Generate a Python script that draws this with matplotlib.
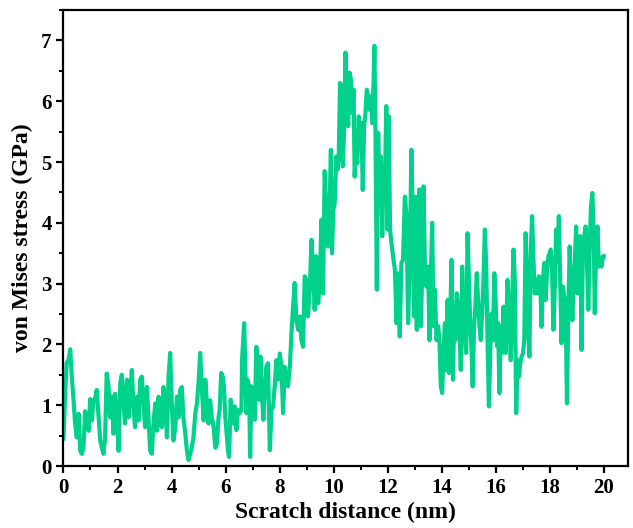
import numpy as np
import matplotlib
matplotlib.use("Agg")
import matplotlib.pyplot as plt
from matplotlib.ticker import MultipleLocator

# von Mises stress along the scratch path, read in pieces
dist_a = [0.00, 0.06, 0.12, 0.19, 0.25, 0.31, 0.37, 0.43, 0.49, 0.56,
          0.62, 0.68, 0.74, 0.80, 0.86, 0.93, 0.99, 1.05, 1.11, 1.17,
          1.23, 1.30, 1.36, 1.42, 1.48, 1.54, 1.60, 1.67, 1.73, 1.79,
          1.85, 1.91, 1.98, 2.04, 2.10, 2.16, 2.22, 2.28, 2.35, 2.41,
          2.47, 2.53, 2.59, 2.65, 2.72, 2.78, 2.84, 2.90, 2.96, 3.02,
          3.09, 3.15, 3.21, 3.27, 3.33, 3.40, 3.46, 3.52, 3.58, 3.64,
          3.70, 3.77, 3.83, 3.89, 3.95, 4.01, 4.07, 4.14, 4.20, 4.26,
          4.32, 4.38, 4.44, 4.51, 4.57, 4.63, 4.69, 4.75, 4.81, 4.88,
          4.94, 5.00, 5.06, 5.12, 5.19, 5.25, 5.31, 5.37, 5.43, 5.49,
          5.56, 5.62, 5.68, 5.74]
stress_a = [0.45, 1.20, 1.70, 1.75, 1.92, 1.45, 1.10, 0.70, 0.47, 0.86,
            0.25, 0.20, 0.30, 0.90, 0.80, 0.58, 1.10, 0.75, 1.08, 1.10,
            1.25, 0.80, 0.42, 0.30, 0.20, 0.47, 1.52, 1.30, 0.80, 1.14,
            0.53, 1.19, 0.75, 0.25, 1.36, 1.50, 1.03, 0.70, 1.42, 0.80,
            1.14, 1.58, 0.97, 0.64, 1.14, 0.75, 1.42, 1.47, 1.03, 0.64,
            1.30, 0.75, 0.25, 0.20, 0.70, 1.03, 0.58, 1.14, 0.80, 0.64,
            1.30, 1.03, 0.47, 1.47, 1.86, 1.03, 0.42, 0.64, 1.14, 0.80,
            1.25, 1.30, 0.80, 0.53, 0.25, 0.10, 0.20, 0.30, 0.47, 0.86,
            1.03, 1.36, 1.86, 1.30, 0.75, 1.42, 1.03, 0.70, 1.08, 0.80,
            0.64, 0.30, 0.36, 0.80]

dist_b = [5.78, 5.84, 5.90, 5.94, 5.99, 6.03, 6.09, 6.13, 6.19, 6.24,
          6.29, 6.34, 6.40, 6.46]
stress_b = [0.92, 1.53, 1.47, 1.31, 0.81, 0.59, 0.26, 0.15, 1.09, 0.92,
            0.70, 0.98, 0.59, 0.92]

dist_c = [6.52, 6.59, 6.61, 6.69, 6.73, 6.77, 6.81, 6.87, 6.91, 6.96,
          7.02, 7.08, 7.14, 7.20, 7.24, 7.29, 7.35, 7.40, 7.45, 7.51,
          7.57, 7.64, 7.70, 7.76, 7.82, 7.88, 7.94, 8.01, 8.07, 8.13,
          8.19, 8.25, 8.31, 8.38, 8.44, 8.50, 8.56, 8.62, 8.69, 8.75,
          8.81, 8.87, 8.93, 8.99, 9.05, 9.12, 9.18, 9.24, 9.30, 9.36,
          9.43, 9.49, 9.55, 9.61, 9.67, 9.74, 9.79]
stress_c = [0.87, 0.92, 1.74, 2.35, 1.63, 0.87, 1.42, 1.31, 0.15, 1.31,
            0.98, 0.76, 1.96, 1.63, 1.09, 1.80, 1.14, 0.76, 1.25, 1.63,
            1.69, 0.26, 0.92, 0.98, 1.31, 1.74, 1.42, 1.85, 1.63, 0.87,
            1.63, 1.47, 1.31, 1.63, 2.18, 2.62, 3.01, 2.40, 2.24, 2.46,
            2.07, 1.96, 3.12, 3.06, 2.46, 2.90, 3.72, 3.28, 2.57, 3.45,
            2.68, 3.06, 4.05, 2.84, 4.85, 4.16, 3.61]

dist_d = [9.83, 9.90, 9.94, 9.99, 10.04, 10.10, 10.14, 10.19, 10.24, 10.29,
          10.34, 10.39, 10.44, 10.49, 10.54, 10.59, 10.64, 10.69, 10.74, 10.78,
          10.83, 10.88, 10.93, 10.98, 11.03, 11.08, 11.13, 11.18, 11.23, 11.28,
          11.33, 11.38, 11.43, 11.48, 11.51, 11.55, 11.60, 11.65, 11.70, 11.75,
          11.80, 11.85, 11.90, 11.95, 11.99, 12.04, 12.09, 12.14, 12.20, 12.27,
          12.33, 12.39, 12.45, 12.51, 12.57, 12.64, 12.70, 12.76, 12.82, 12.88,
          12.93, 12.98, 13.03, 13.08]
stress_d = [3.67, 5.20, 3.50, 4.21, 4.32, 5.09, 4.87, 5.09, 6.30, 6.25,
            4.93, 5.53, 6.80, 5.97, 5.59, 6.47, 6.36, 5.81, 6.19, 4.76,
            5.15, 4.98, 5.75, 5.37, 5.64, 4.54, 5.59, 5.81, 6.19, 6.08,
            5.86, 6.08, 5.64, 6.30, 6.91, 5.53, 2.90, 5.48, 4.43, 5.09,
            3.78, 4.87, 4.65, 5.92, 3.89, 5.75, 3.89, 3.67, 3.45, 3.23,
            2.35, 3.17, 2.13, 3.34, 3.39, 4.43, 4.10, 2.35, 3.34, 5.20,
            4.10, 2.46, 4.43, 2.24]

dist_e = [13.17, 13.23, 13.28, 13.33, 13.38, 13.44, 13.50, 13.55, 13.60, 13.65,
          13.70, 13.75, 13.81, 13.87, 13.92, 13.97, 14.02, 14.07, 14.12, 14.17,
          14.22, 14.27, 14.32, 14.37, 14.42, 14.46, 14.51, 14.56, 14.61, 14.66,
          14.71, 14.76, 14.81, 14.86, 14.91, 14.96, 15.01, 15.06, 15.10, 15.15,
          15.20, 15.25, 15.30, 15.35, 15.40, 15.45, 15.50, 15.55, 15.60, 15.65,
          15.70, 15.75, 15.80, 15.85, 15.90, 15.95, 16.00, 16.05, 16.09, 16.14,
          16.19, 16.24, 16.29, 16.37, 16.44]
stress_e = [4.55, 2.30, 3.17, 4.60, 3.28, 2.95, 3.28, 2.07, 3.17, 4.00,
            2.30, 2.90, 2.07, 2.30, 2.07, 1.31, 1.20, 1.86, 2.35, 1.58,
            2.73, 1.53, 2.51, 3.39, 1.42, 2.35, 2.07, 2.84, 2.62, 2.30,
            1.58, 3.28, 2.51, 2.07, 1.86, 3.83, 3.06, 2.30, 1.97, 1.31,
            2.30, 2.62, 3.17, 2.73, 2.30, 2.07, 2.51, 3.06, 3.89, 3.28,
            2.07, 0.98, 1.86, 2.51, 2.07, 3.17, 2.73, 1.97, 2.35, 1.20,
            2.30, 1.86, 2.62, 1.86, 3.06]

dist_f = [16.51, 16.56, 16.61, 16.66, 16.71, 16.76, 16.81, 16.86, 16.91, 16.96,
          17.01, 17.06, 17.11, 17.16, 17.20, 17.25, 17.30, 17.35, 17.40, 17.45,
          17.50, 17.55, 17.60, 17.65, 17.70, 17.75, 17.80, 17.85, 17.90, 17.95,
          18.00, 18.04, 18.09, 18.14, 18.19, 18.24, 18.29, 18.34, 18.39, 18.44,
          18.49, 18.54, 18.59, 18.64, 18.69, 18.74, 18.79, 18.84, 18.88, 18.93,
          18.98, 19.03, 19.08, 19.13, 19.18, 19.23, 19.28, 19.33, 19.38, 19.43,
          19.48, 19.53, 19.58, 19.63, 19.67, 19.72, 19.77, 19.82, 19.87, 19.92,
          19.97, 20.00]
stress_f = [2.40, 1.74, 2.62, 3.56, 3.06, 0.87, 1.74, 1.47, 1.69, 1.80,
            1.85, 2.07, 3.83, 3.06, 2.29, 1.80, 3.56, 4.11, 3.39, 2.84,
            3.06, 2.84, 3.12, 3.06, 2.29, 3.06, 3.34, 2.73, 3.17, 3.45,
            3.50, 3.56, 3.23, 2.24, 2.95, 3.89, 3.34, 4.11, 3.06, 2.02,
            2.95, 2.79, 2.62, 1.03, 2.51, 3.61, 2.90, 2.40, 2.90, 3.34,
            3.94, 2.84, 3.39, 3.78, 1.91, 3.56, 3.78, 3.94, 3.39, 2.57,
            3.61, 4.27, 4.49, 3.83, 2.51, 3.61, 3.94, 3.28, 3.39, 3.28,
            3.45, 3.45]

distance = np.concatenate([dist_a, dist_b, dist_c, dist_d, dist_e, dist_f])
stress = np.concatenate([stress_a, stress_b, stress_c, stress_d, stress_e, stress_f])

plt.rcParams['font.family'] = ['Liberation Serif', 'DejaVu Serif']
plt.rcParams['font.weight'] = 'bold'

fig = plt.figure(figsize=(6.33, 5.28), dpi=100)
ax = fig.add_axes([0.1003, 0.1174, 0.8918, 0.8636])

ax.plot(distance, stress, color='#00D28C', lw=3, solid_joinstyle='round')

ax.set_xlim(0, 20.9)
ax.set_ylim(0, 7.5)
ax.xaxis.set_major_locator(MultipleLocator(2))
ax.xaxis.set_minor_locator(MultipleLocator(1))
ax.yaxis.set_major_locator(MultipleLocator(1))
ax.yaxis.set_minor_locator(MultipleLocator(0.5))

for s in ax.spines.values():
    s.set_linewidth(1.6)
ax.tick_params(which='major', direction='out', length=5, width=1.6,
               labelsize=15, top=False, right=False)
ax.tick_params(which='minor', direction='out', length=3, width=1.4,
               top=False, right=False)
for lab in ax.get_xticklabels() + ax.get_yticklabels():
    lab.set_fontweight('bold')

ax.set_xlabel('Scratch distance (nm)', fontsize=17, fontweight='bold', labelpad=3)
ax.set_ylabel('von Mises stress (GPa)', fontsize=17, fontweight='bold', labelpad=6)

fig.savefig('out.png', dpi=100)
